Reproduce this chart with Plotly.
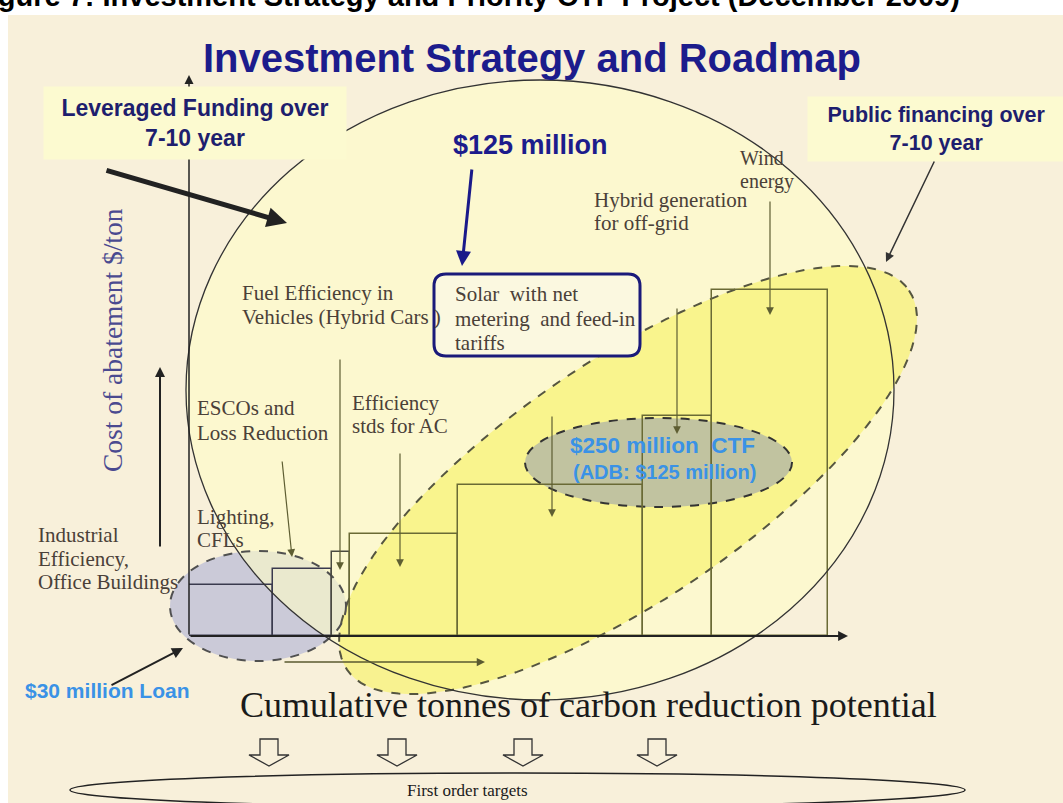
import numpy as np
import plotly.graph_objects as go

W, H = 1063, 803

# ---------------- data (abatement cost curve, relative units) ----------------
step_names = ["Industrial Efficiency, Office Buildings", "Lighting, CFLs / ESCOs and Loss Reduction",
              "Fuel Efficiency in Vehicles", "Efficiency stds for AC",
              "Solar with net metering and feed-in tariffs", "Hybrid generation for off-grid",
              "Wind energy"]
step_tonnes = [8.4, 5.9, 1.8, 10.8, 18.5, 6.9, 11.6]      # cumulative tonnes (width)
step_costs = [5.1, 6.7, 8.4, 10.2, 15.1, 22.0, 34.6]      # cost of abatement $/ton (height)
x_axis_max = 65.9
y_axis_max = 56.1

SANS = "Liberation Sans, Arial, sans-serif"
SERIF = "Liberation Serif, Times New Roman, serif"
NAVY = "#1C1C8C"
LABEL = "#4A4038"
OLIVE = "#5E5E32"
BLUE = "#3A92E6"

lefts = np.concatenate([[0], np.cumsum(step_tonnes)[:-1]])
centers = lefts + np.array(step_tonnes) / 2
bar_line_colors = ["#3A3A4E", "#3A3A4E", "#4A4A40", "#6A6A35", "#6A6A35", "#6A6A35", "#6A6A35"]

fig = go.Figure()
fig.add_trace(go.Bar(
    x=centers, y=step_costs, width=step_tonnes, base=0,
    xaxis="x2", yaxis="y2", hovertext=step_names, hoverinfo="text",
    marker=dict(color="rgba(0,0,0,0)", line=dict(color=bar_line_colors, width=1.5)),
    showlegend=False,
))

shapes = []
def S(**kw):
    d = dict(xref="x", yref="y", layer="below")
    d.update(kw)
    shapes.append(d)

def ellipse_path(cx, cy, a, b, theta_deg, n=120):
    th = np.radians(theta_deg)
    t = np.linspace(0, 2 * np.pi, n, endpoint=False)
    ux, uy = np.cos(th), -np.sin(th)
    vx, vy = np.sin(th), np.cos(th)
    xs = cx + a * np.cos(t) * ux + b * np.sin(t) * vx
    ys = cy + a * np.cos(t) * uy + b * np.sin(t) * vy
    p = "M %.1f,%.1f " % (xs[0], ys[0]) + " ".join("L %.1f,%.1f" % (x, y) for x, y in zip(xs[1:], ys[1:])) + " Z"
    return p

def rounded_rect(x0, y0, x1, y1, r):
    return (f"M {x0+r},{y0} L {x1-r},{y0} Q {x1},{y0} {x1},{y0+r} L {x1},{y1-r} Q {x1},{y1} {x1-r},{y1} "
            f"L {x0+r},{y1} Q {x0},{y1} {x0},{y1-r} L {x0},{y0+r} Q {x0},{y0} {x0+r},{y0} Z")

def hollow_down(cx, top=739, base=755, tip=766, sw=9, hw=20):
    return (f"M {cx-sw},{top} L {cx+sw},{top} L {cx+sw},{base} L {cx+hw},{base} L {cx},{tip} "
            f"L {cx-hw},{base} L {cx-sw},{base} Z")

# parchment
S(type="rect", x0=8, y0=15, x1=W, y1=H, fillcolor="#F8F0DA", line=dict(width=0))
# blue ellipse fill
S(type="circle", x0=170, x1=346, y0=551, y1=661, fillcolor="rgba(140,150,215,0.42)", line=dict(width=0))
# big circle fill
S(type="circle", x0=186, x1=894, y0=80, y1=700, fillcolor="rgba(255,253,200,0.6)", line=dict(width=0))
# yellow tilted ellipse
S(type="path", path=ellipse_path(628, 480, 339, 120, 34), fillcolor="rgba(248,242,115,0.72)",
  line=dict(color="#555540", width=2, dash="dash"))
# blue ellipse outline
S(type="circle", x0=170, x1=346, y0=551, y1=661, line=dict(color="#505050", width=2, dash="dash"))
# CTF ellipse
S(type="circle", x0=525, x1=792, y0=418, y1=507, fillcolor="rgba(170,174,168,0.7)",
  line=dict(color="#333333", width=2, dash="dash"))
# big circle outline
S(type="circle", x0=186, x1=894, y0=80, y1=700, line=dict(color="#333333", width=1.3), layer="above")
# bottom ellipse
S(type="circle", x0=70, x1=965, y0=773, y1=807, line=dict(color="#222222", width=1.5), layer="above")
# hollow arrows
for cx in [269, 397, 523, 657]:
    S(type="path", path=hollow_down(cx), line=dict(color="#333333", width=1.3), layer="above")
# solar box
S(type="path", path=rounded_rect(434, 274, 640, 356, 12), fillcolor="#FBF8E0",
  line=dict(color="#1A1A7A", width=3), layer="above")

ann = []
def arrow(x, y, ax, ay, color, width, head=2, size=1.0):
    ann.append(dict(x=x, y=y, ax=ax, ay=ay, xref="x", yref="y", axref="x", ayref="y",
                    showarrow=True, arrowhead=head, arrowsize=size, arrowwidth=width,
                    arrowcolor=color, text="", standoff=0))

def txt(x, y, text, size, color, family=SERIF, xanchor="left", yanchor="middle", align="left", **kw):
    d = dict(x=x, y=y, xref="x", yref="y", text=text, showarrow=False, xanchor=xanchor,
             yanchor=yanchor, align=align, font=dict(size=size, color=color, family=family))
    d.update(kw)
    ann.append(d)

def lines(x, y0, texts, size, color, spacing=24, family=SERIF):
    for i, t in enumerate(texts):
        txt(x, y0 + i * spacing, t, size, color, family=family)

# axes of the diagram
arrow(189, 75, 189, 636, "#222222", 1.5, head=2, size=1.2)
arrow(848, 636, 189, 636, "#222222", 1.8, head=2, size=1.1)
arrow(485, 662, 283, 662, "#5A5A30", 1.5, head=2, size=1.1)
arrow(160, 367, 160, 548, "#222222", 2, head=2, size=1.0)

# boxed headers (drawn over the y axis)
txt(195, 123, "<b>Leveraged Funding over<br>7-10 year</b>", 23, "#1E1E6E", family=SANS,
    xanchor="center", align="center", width=300, height=70, bgcolor="#FCFAD0")
txt(936, 129, "<b>Public financing over<br>7-10 year</b>", 21.5, "#1E1E6E", family=SANS,
    xanchor="center", align="center", width=255, height=62, bgcolor="#FCFAD0")

# pointer arrows
arrow(287, 223, 105, 170, "#222222", 5, head=2, size=0.8)
arrow(462, 266, 472, 168, "#1A1A8A", 3, head=2, size=1.0)
arrow(886, 262, 935, 160, "#333333", 1.5, head=2, size=1.2)
arrow(183, 648, 110, 686, "#222222", 2, head=2, size=1.1)
arrow(292, 557, 282, 460, OLIVE, 1.2, head=2, size=1.3)
arrow(340, 570, 340, 358, OLIVE, 1.2, head=2, size=1.3)
arrow(400, 567, 400, 452, OLIVE, 1.2, head=2, size=1.3)
arrow(552, 517, 552, 415, OLIVE, 1.2, head=2, size=1.3)
arrow(677, 434, 677, 307, OLIVE, 1.2, head=2, size=1.3)
arrow(770, 315, 770, 200, OLIVE, 1.2, head=2, size=1.3)

# caption (cropped at the top edge in the source page)
ann.append(dict(x=962 / W, y=1 + 4 / H, xref="paper", yref="paper", showarrow=False,
                text="<b>Figure 7: Investment Strategy and Priority CTF Project (December 2009)</b>",
                xanchor="right", yanchor="middle",
                font=dict(size=29, color="#000000", family=SANS)))

# titles
txt(532, 58, "<b>Investment Strategy and Roadmap</b>", 40, NAVY, family=SANS, xanchor="center", align="center")
txt(530, 145, "<b>$125 million</b>", 27, NAVY, family=SANS, xanchor="center", align="center")

# y-axis label
txt(112, 340, "Cost of abatement $/ton", 27.5, "#4A4A90", textangle=-90, xanchor="center", align="center")

# category labels
lines(36, 535, ["Industrial", "Efficiency,", "Office Buildings"], 21, LABEL, spacing=23.5)
lines(195, 517, ["Lighting,", "CFLs"], 21, LABEL, spacing=23)
lines(195, 408, ["ESCOs and", "Loss Reduction"], 21, LABEL, spacing=25)
lines(240, 293, ["Fuel Efficiency in", "Vehicles (Hybrid Cars )"], 21, LABEL, spacing=24)
lines(350, 403, ["Efficiency", "stds for AC"], 21, LABEL, spacing=23)
lines(453, 294, ["Solar  with net", "metering  and feed-in", "tariffs"], 21, LABEL, spacing=24.5)
lines(592, 200, ["Hybrid generation", "for off-grid"], 21, LABEL, spacing=23)
lines(738, 158, ["Wind", "energy"], 20, LABEL, spacing=23)

# funding labels
txt(662, 445, "<b>$250 million  CTF</b>", 22.5, BLUE, family=SANS, xanchor="center", align="center")
txt(664, 472, "<b>(ADB: $125 million)</b>", 20, BLUE, family=SANS, xanchor="center", align="center")
txt(107, 690, "<b>$30 million Loan</b>", 21, BLUE, family=SANS, xanchor="center", align="center")

# x-axis label & bottom
txt(588, 705, "Cumulative tonnes of carbon reduction potential", 36, "#1A1A1A", xanchor="center", align="center")
txt(467, 790, "First order targets", 17, "#1A1A1A", xanchor="center", align="center")

fig.update_layout(
    width=W, height=H, margin=dict(l=0, r=0, t=0, b=0),
    paper_bgcolor="#FFFFFF", plot_bgcolor="rgba(0,0,0,0)",
    xaxis=dict(range=[0, W], visible=False, domain=[0, 1], fixedrange=True),
    yaxis=dict(range=[H, 0], visible=False, domain=[0, 1], fixedrange=True),
    xaxis2=dict(range=[0, x_axis_max], domain=[189 / W, 848 / W], anchor="y2", visible=False),
    yaxis2=dict(range=[0, y_axis_max], domain=[(H - 636) / H, (H - 75) / H], anchor="x2", visible=False),
    shapes=shapes, annotations=ann, showlegend=False, bargap=0,
)

fig.write_html("out.html")
